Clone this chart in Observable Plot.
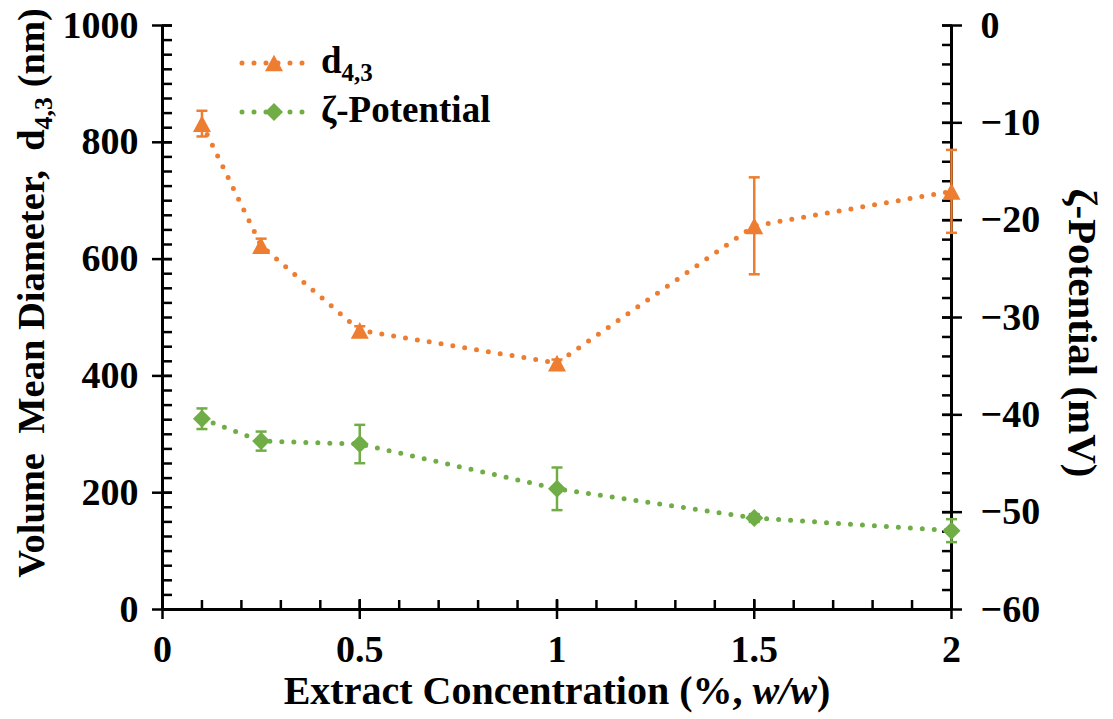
<!DOCTYPE html>
<html><head><meta charset="utf-8">
<script src="https://cdn.jsdelivr.net/npm/d3@7"></script>
<script src="https://cdn.jsdelivr.net/npm/@observablehq/plot@0.6"></script>
<style>
html,body{margin:0;padding:0;background:#fff;}
svg text{font-family:"Liberation Serif","Times New Roman",serif;font-weight:bold;}
</style></head><body><div id="chart"></div>
<script>
// ---- data ----
const concentration = [0.1, 0.25, 0.5, 1, 1.5, 2];
const d43 = [832, 623, 478, 422, 657, 716];
const d43Err = [22, 12, 7, 6, 83, 71];
const zeta = [-40.4, -42.7, -43.0, -47.6, -50.6, -51.9];
const zetaErr = [1.06, 0.98, 1.97, 2.19, 0.4, 1.18];
const xTicks = [0, 0.5, 1, 1.5, 2];
const leftTicks = [0, 200, 400, 600, 800, 1000];
const rightTicks = [-60, -50, -40, -30, -20, -10, 0];
const seriesNames = ["d", "\u03B6-Potential"];
const xTitle = ["Extract Concentration (%, ", "w/w", ")"];
const leftTitle = ["Volume  Mean Diameter,  d", "4,3", " (nm)"];
const rightTitle = "\u03B6-Potential (mV)";

const ORANGE = "#ED7D31", GREEN = "#70AD47";
const FONT = "'Liberation Serif', 'Times New Roman', serif";

// right axis (zeta, -60..0) mapped onto left scale (0..1000)
const toLeft = z => (z + 60) * 1000 / 60;
const fromLeft = v => v * 60 / 1000 - 60;
const minus = v => v < 0 ? "\u2212" + Math.abs(v) : String(v);

const d43Rows = concentration.map((x, i) => ({x, y: d43[i], lo: d43[i] - d43Err[i], hi: d43[i] + d43Err[i]}));
const zetaRows = concentration.map((x, i) => ({x, y: toLeft(zeta[i]), lo: toLeft(zeta[i] - zetaErr[i]), hi: toLeft(zeta[i] + zetaErr[i])}));

const capSymbol = {draw(ctx, size) { const w = Math.sqrt(size / Math.PI); ctx.moveTo(-w, 0); ctx.lineTo(w, 0); }};
const triSymbol = {draw(ctx, size) { const r = Math.sqrt(size / Math.PI); ctx.moveTo(0, -r * 0.93); ctx.lineTo(r, r * 0.93); ctx.lineTo(-r, r * 0.93); ctx.closePath(); }};
const diaSymbol = {draw(ctx, size) { const r = Math.sqrt(size / Math.PI); ctx.moveTo(0, -r); ctx.lineTo(r, 0); ctx.lineTo(0, r); ctx.lineTo(-r, 0); ctx.closePath(); }};

const blank = () => "";
const tickStyle = {strokeWidth: 2.5, label: null};

function series(rows, color, symbol) {
  return [
    Plot.line(rows, {x: "x", y: "y", stroke: color, strokeWidth: 5, strokeDasharray: "0 12", strokeLinecap: "round", curve: "linear"}),
    Plot.ruleX(rows, {x: "x", y1: "lo", y2: "hi", stroke: color, strokeWidth: 2.5}),
    Plot.dot(rows, {x: "x", y: "hi", symbol: capSymbol, r: 5.5, fill: "none", stroke: color, strokeWidth: 2.5}),
    Plot.dot(rows, {x: "x", y: "lo", symbol: capSymbol, r: 5.5, fill: "none", stroke: color, strokeWidth: 2.5}),
    Plot.dot(rows, {x: "x", y: "y", symbol, r: 9, fill: color, stroke: "none"})
  ];
}

const chart = Plot.plot({
  width: 1113, height: 719,
  marginLeft: 162, marginRight: 162, marginTop: 25, marginBottom: 110,
  style: {fontFamily: FONT, fontWeight: "bold", fontSize: "38px", background: "#fff", color: "#000"},
  x: {domain: [0, 2]},
  y: {domain: [0, 1000]},
  marks: [
    // x axis
    Plot.axisX({ticks: xTicks, tickSize: 10, tickPadding: 16, tickFormat: d => String(d), fontSize: 38, ...tickStyle}),
    Plot.axisX({ticks: xTicks, tickSize: -10, tickFormat: blank, ...tickStyle}),
    Plot.axisX({ticks: d3.range(0, 2.001, 0.1), tickSize: -9, tickFormat: blank, ...tickStyle}),
    // left y axis
    Plot.axisY({ticks: leftTicks, tickSize: 10, tickPadding: 14, tickFormat: d => String(d), fontSize: 38, ...tickStyle}),
    Plot.axisY({ticks: leftTicks, tickSize: -10, tickFormat: blank, ...tickStyle}),
    Plot.axisY({ticks: d3.range(0, 1001, 25), tickSize: -10, tickFormat: blank, ...tickStyle}),
    // right y axis
    Plot.axisY({anchor: "right", ticks: rightTicks.map(toLeft), tickSize: 10, tickPadding: 19, fontSize: 38,
      tickFormat: d => minus(Math.round(fromLeft(d))), ...tickStyle}),
    Plot.axisY({anchor: "right", ticks: rightTicks.map(toLeft), tickSize: -10, tickFormat: blank, ...tickStyle}),
    Plot.axisY({anchor: "right", ticks: d3.range(-60, 1, 2).map(toLeft), tickSize: -10, tickFormat: blank, ...tickStyle}),
    // axis lines
    Plot.ruleX([0, 2], {strokeWidth: 3}),
    Plot.ruleY([0], {strokeWidth: 3}),
    // data
    ...series(d43Rows, ORANGE, triSymbol),
    ...series(zetaRows, GREEN, diaSymbol)
  ]
});

const svg = d3.select(chart);
const txt = () => svg.append("text").attr("font-weight", "bold").attr("font-family", FONT).attr("fill", "#000");

// x-axis title
const xt = txt().attr("x", 557).attr("y", 704).attr("text-anchor", "middle").attr("font-size", 40);
xt.append("tspan").text(xTitle[0]);
xt.append("tspan").attr("font-style", "italic").text(xTitle[1]);
xt.append("tspan").text(xTitle[2]);

// left title
const lt = txt().attr("transform", "translate(44,293) rotate(-90)").attr("text-anchor", "middle")
  .attr("font-size", 38.5).style("white-space", "pre");
lt.append("tspan").text(leftTitle[0]);
lt.append("tspan").attr("font-size", 26).attr("dy", 8).text(leftTitle[1]);
lt.append("tspan").attr("dy", -8).text(leftTitle[2]);

// right title
txt().attr("transform", "translate(1069,333) rotate(90)").attr("text-anchor", "middle")
  .attr("font-size", 41).text(rightTitle);

// legend
const legend = [
  {color: ORANGE, sym: triSymbol, y: 63, name: seriesNames[0], sub: "4,3", ty: 73},
  {color: GREEN, sym: diaSymbol, y: 112, name: seriesNames[1], sub: null, ty: 122}
];
legend.forEach(L => {
  svg.append("line").attr("x1", 242).attr("x2", 306).attr("y1", L.y).attr("y2", L.y)
    .attr("stroke", L.color).attr("stroke-width", 5).attr("stroke-dasharray", "0 12").attr("stroke-linecap", "round");
  svg.append("path").attr("transform", `translate(274,${L.y})`).attr("fill", L.color)
    .attr("d", d3.symbol(L.sym, Math.PI * 81)());
  const t = txt().attr("x", 321).attr("y", L.ty).attr("text-anchor", "start").attr("font-size", 37);
  t.append("tspan").text(L.name);
  if (L.sub) t.append("tspan").attr("font-size", 25).attr("dy", 8).text(L.sub);
});

document.getElementById("chart").append(chart);
</script>
</body></html>
